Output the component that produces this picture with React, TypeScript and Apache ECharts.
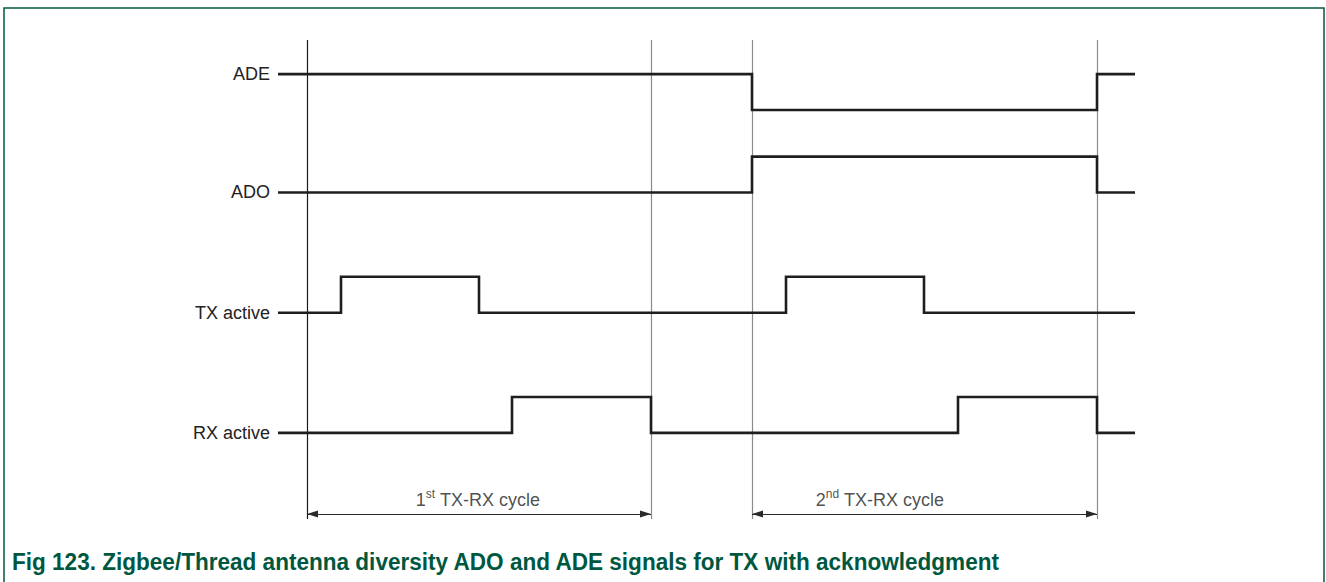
import React, { useEffect, useRef } from "react";
import * as echarts from "echarts";

// Timing diagram data (time axis in arbitrary units)
const signalNames = ["ADE", "ADO", "TX active", "RX active"];
const laneBase = [9, 6.7, 3.35, 0]; // low level of each lane (axis units)
const adeEdges = [0, 474, 819, 857];
const adeLevels = [1, 0, 1];
const adoEdges = [0, 474, 819, 857];
const adoLevels = [0, 1, 0];
const txEdges = [0, 63, 201, 508, 646, 857];
const txLevels = [0, 1, 0, 1, 0];
const rxEdges = [0, 234, 373, 680, 819, 857];
const rxLevels = [0, 1, 0, 1, 0];
const cycleBounds = [
  [29, 373],
  [474, 819],
];
const cycleOrdinals = [
  ["1", "st"],
  ["2", "nd"],
];
const cycleLabelX = [200, 602];
const cycleLabelY = -1.84;
const cycleArrowY = -2.26;
const captionText =
  "Fig 123. Zigbee/Thread antenna diversity ADO and ADE signals for TX with acknowledgment";

const FONT = '"Liberation Sans", Arial, Helvetica, sans-serif';
const GREEN = "#00573f";

function buildSteps(edges: number[], levels: number[], base: number) {
  const pts: number[][] = [];
  for (let i = 0; i < levels.length; i++) {
    pts.push([edges[i], base + levels[i]]);
    pts.push([edges[i + 1], base + levels[i]]);
  }
  return pts;
}

// vertical transition segments only (used for a white halo behind the signal)
function buildTransitions(edges: number[], levels: number[], base: number) {
  const pts: (number[] | null)[] = [];
  for (let i = 1; i < levels.length; i++) {
    pts.push([edges[i], base + levels[i - 1]]);
    pts.push([edges[i], base + levels[i]]);
    pts.push(null);
  }
  return pts;
}

export default function App() {
  const ref = useRef<HTMLDivElement>(null);
  useEffect(() => {
    if (!ref.current) return;
    const chart = echarts.init(ref.current, undefined, { renderer: "svg" });
    const signals = [
      [adeEdges, adeLevels],
      [adoEdges, adoLevels],
      [txEdges, txLevels],
      [rxEdges, rxLevels],
    ];
    // label each signal at its starting level
    const startLevels = signals.map(([, l], i) => laneBase[i] + (l as number[])[0]);
    const haloSeries = signals.map(([e, l], i) => ({
      type: "line",
      data: buildTransitions(e as number[], l as number[], laneBase[i]),
      connectNulls: false,
      symbol: "none",
      silent: true,
      z: 3,
      lineStyle: { color: "#ffffff", width: 7, cap: "square" },
    }));
    const signalSeries = signals.map(([e, l], i) => ({
      type: "line",
      name: signalNames[i],
      data: buildSteps(e as number[], l as number[], laneBase[i]),
      symbol: "none",
      z: 5,
      lineStyle: { color: "#1e1e1e", width: 2.6, join: "miter" },
    }));
    const boundaryLines = cycleBounds.flat().map((x, i) => ({
      xAxis: x,
      lineStyle: { color: i === 0 ? "#1a1a1a" : "#8a8a8a", width: 1.2, type: "solid" },
    }));
    const head = { symbol: "triangle", symbolSize: [7, 11], symbolOffset: [0, 5.5] };
    const arrows = cycleBounds.map(([a, b]) => [
      { coord: [a, cycleArrowY], ...head },
      { coord: [b, cycleArrowY], ...head },
    ]);
    const option = {
      animation: false,
      grid: { left: 278, right: 191, top: 40, bottom: 63 },
      xAxis: { type: "value", min: 0, max: 857, show: false },
      yAxis: {
        type: "value",
        min: -2.4,
        max: 10.95,
        splitLine: { show: false },
        axisLine: { show: false },
        axisTick: { show: false },
        axisLabel: {
          customValues: startLevels,
          margin: 8,
          color: "#222",
          fontSize: 18,
          fontFamily: FONT,
          formatter: (v: number) => {
            const idx = startLevels.findIndex((b) => Math.abs(b - v) < 1e-6);
            return idx >= 0 ? signalNames[idx] : "";
          },
        },
      },
      series: [
        {
          type: "line",
          data: [],
          z: 1,
          markLine: {
            silent: true,
            symbol: "none",
            label: { show: false },
            data: boundaryLines,
          },
        },
        {
          type: "line",
          data: [],
          z: 2,
          markLine: {
            silent: true,
            label: { show: false },
            lineStyle: { color: "#2a2a2a", width: 1, type: "solid" },
            itemStyle: { color: "#2a2a2a" },
            data: arrows,
          },
        },
        {
          type: "scatter",
          symbolSize: 1,
          itemStyle: { color: "rgba(0,0,0,0)" },
          data: cycleLabelX.map((x, i) => ({
            value: [x, cycleLabelY],
            label: {
              show: true,
              position: "inside",
              formatter: `{n|${cycleOrdinals[i][0]}}{s|${cycleOrdinals[i][1]}}{n| TX-RX cycle}`,
            },
          })),
          label: {
            rich: {
              n: { fontSize: 18, color: "#222", fontFamily: FONT, lineHeight: 21, verticalAlign: "bottom" },
              s: { fontSize: 12, color: "#222", fontFamily: FONT, lineHeight: 21, verticalAlign: "top" },
            },
          },
        },
        ...haloSeries,
        ...signalSeries,
      ],
      graphic: [
        {
          type: "rect",
          shape: { x: 4, y: 8, width: 1320, height: 700 },
          style: { fill: "none", stroke: GREEN, lineWidth: 1.5 },
          silent: true,
        },
        {
          type: "text",
          x: 12,
          y: 562,
          scaleX: 0.94,
          style: {
            text: captionText,
            fill: GREEN,
            font: `bold 24px ${FONT}`,
            verticalAlign: "middle",
          },
        },
      ],
    };
    chart.setOption(option as any);
    return () => chart.dispose();
  }, []);
  return (
    <div
      ref={ref}
      style={{ position: "fixed", left: 0, top: 0, width: 1326, height: 582, background: "#fff" }}
    />
  );
}
